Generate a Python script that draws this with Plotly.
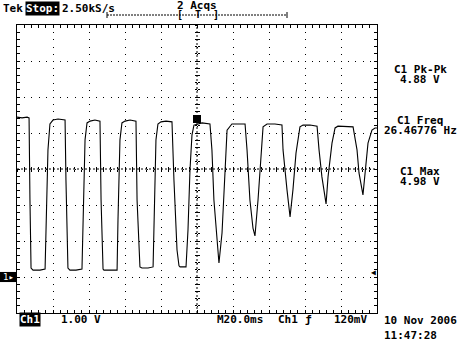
import plotly.graph_objects as go

# ---- data (time in ms relative to trigger, volts) ----
time_ms = [
    -100.0, -97.2, -94.4, -93.3, -92.8, -92.2, -91.1, -87.2, -84.4, -83.9, -82.8, -81.7, -80.0, -77.2, -73.3,
    -72.8, -71.7, -70.6, -67.2, -63.9, -63.3, -62.2, -61.1, -59.4, -56.7, -53.9,
    -53.3, -52.2, -51.7, -48.3, -44.4, -43.9, -42.8, -41.7, -40.0, -37.2, -33.9,
    -33.3, -31.7, -30.6, -27.2, -24.4, -23.9, -22.8, -21.7, -20.0, -17.2, -13.9,
    -12.8, -11.1, -10.0, -9.4, -6.1, -5.0, -3.9, -2.8, -1.7, 2.8, 7.2,
    8.3, 9.4, 11.1, 12.2, 13.9, 15.6, 16.7, 19.4, 22.8, 26.7,
    27.8, 29.4, 31.1, 32.2, 33.9, 35.6, 36.7, 38.9, 43.3, 47.2,
    47.8, 50.0, 51.7, 53.3, 55.0, 57.2, 58.9, 62.8, 66.7,
    67.8, 69.4, 71.7, 72.8, 75.0, 76.7, 78.3, 82.2, 86.7,
    88.9, 90.0, 92.2, 93.3, 95.0, 97.2, 98.9, 100.0,
]
volts = [
    4.44, 4.42, 4.44, 4.42, 2.14, 0.25, 0.19, 0.19, 0.22, 1.31, 3.53, 4.25, 4.36, 4.39, 4.36,
    2.69, 0.25, 0.19, 0.19, 0.22, 1.31, 3.81, 4.28, 4.33, 4.36, 4.33,
    2.14, 0.22, 0.19, 0.19, 0.19, 1.58, 3.81, 4.28, 4.33, 4.36, 4.33,
    2.14, 0.28, 0.25, 0.25, 0.28, 1.31, 3.81, 4.25, 4.31, 4.33, 4.31,
    2.69, 0.75, 0.31, 0.28, 0.28, 1.31, 2.97, 3.94, 4.22, 4.28, 4.25,
    3.53, 2.14, 0.94, 0.39, 1.22, 3.06, 4.08, 4.25, 4.25, 4.25,
    3.53, 2.14, 1.36, 1.14, 2.14, 3.44, 4.17, 4.25, 4.25, 4.22,
    3.53, 2.42, 1.67, 2.42, 3.44, 4.17, 4.22, 4.22, 4.19,
    3.53, 2.78, 2.03, 2.78, 3.72, 4.14, 4.19, 4.19, 4.17,
    3.53, 2.89, 2.28, 2.89, 3.72, 4.08, 4.14, 4.14,
]
assert len(time_ms) == len(volts)

x_range = [-100, 100]   # 10 div x 20 ms
y_range = [-1, 7]       # 8 div x 1 V, ground at 0 V
trigger_level = 0.12

header_left = ["Tek", "Stop:", "2.50kS/s"]
header_acq = "2 Acqs"
measurements = [("C1 Pk-Pk", "4.88 V"), ("C1 Freq", "26.46776 Hz"), ("C1 Max", "4.98 V")]
footer = {"ch": "Ch1", "vdiv": "1.00 V", "time": "M20.0ms", "trig_src": "Ch1", "edge": "ƒ",
          "trig_lvl": "120mV", "date": "10 Nov 2006", "clock": "11:47:28"}

W, H = 461, 346
L, R, T, B = 17, 84, 25, 33
PW, PH = W - L - R, H - T - B
FONT = "DejaVu Sans Mono"


def px(X):
    return (X - L) / PW


def py(Y):
    return (H - B - Y) / PH


fig = go.Figure()
fig.add_trace(go.Scatter(x=time_ms, y=volts, mode="lines",
                         line=dict(color="black", width=1.1), hoverinfo="skip", showlegend=False))
# empty traces so the overlay tick axes are drawn
fig.add_trace(go.Scatter(x=[], y=[], xaxis="x2", yaxis="y", showlegend=False))
fig.add_trace(go.Scatter(x=[], y=[], xaxis="x3", yaxis="y", showlegend=False))
fig.add_trace(go.Scatter(x=[], y=[], xaxis="x", yaxis="y2", showlegend=False))
fig.add_trace(go.Scatter(x=[], y=[], xaxis="x", yaxis="y3", showlegend=False))

common = dict(showticklabels=False, zeroline=False, fixedrange=True)

fig.update_layout(
    width=W, height=H,
    margin=dict(l=L, r=R, t=T, b=B, pad=0),
    paper_bgcolor="white", plot_bgcolor="white",
    showlegend=False,
    xaxis=dict(range=x_range, tick0=0, dtick=20, showgrid=True, gridcolor="black",
               griddash="1px,6.2px", gridwidth=1,
               showline=True, linecolor="black", linewidth=1, mirror="allticks",
               ticks="inside", ticklen=3, tickcolor="black", tickwidth=1,
               minor=dict(dtick=4, tick0=0, ticks="inside", ticklen=3, tickcolor="black", showgrid=False),
               **common),
    yaxis=dict(range=y_range, tick0=0, dtick=1, showgrid=True, gridcolor="black",
               griddash="1px,6.2px", gridwidth=1,
               showline=True, linecolor="black", linewidth=1, mirror="allticks",
               ticks="inside", ticklen=3, tickcolor="black", tickwidth=1,
               minor=dict(dtick=0.2, tick0=0, ticks="inside", ticklen=3, tickcolor="black", showgrid=False),
               **common),
    xaxis2=dict(overlaying="x", anchor="free", position=0.5, range=x_range, tick0=0, dtick=4,
                ticks="inside", ticklen=2, tickcolor="black", showgrid=False, showline=False, **common),
    xaxis3=dict(overlaying="x", anchor="free", position=0.5, range=x_range, tick0=0, dtick=4,
                ticks="outside", ticklen=2, tickcolor="black", showgrid=False, showline=False, **common),
    yaxis2=dict(overlaying="y", anchor="free", position=0.5, range=y_range, tick0=0, dtick=0.2,
                ticks="inside", ticklen=2, tickcolor="black", showgrid=False, showline=False, **common),
    yaxis3=dict(overlaying="y", anchor="free", position=0.5, range=y_range, tick0=0, dtick=0.2,
                ticks="outside", ticklen=2, tickcolor="black", showgrid=False, showline=False, **common),
)

# centre crosshair
fig.add_shape(type="line", xref="x", yref="paper", x0=0, x1=0, y0=0, y1=1,
              line=dict(color="black", width=1, dash="2px,2px"), layer="below")
fig.add_shape(type="line", xref="paper", yref="y", x0=0, x1=1, y0=3, y1=3,
              line=dict(color="black", width=1, dash="2px,2px"), layer="below")

# header trigger-position bar
fig.add_shape(type="line", xref="paper", yref="paper", x0=px(107), x1=px(287), y0=py(15), y1=py(15),
              line=dict(color="black", width=1, dash="2px,1px"))
for X in (107, 287):
    fig.add_shape(type="line", xref="paper", yref="paper", x0=px(X), x1=px(X), y0=py(12), y1=py(18),
                  line=dict(color="black", width=1))


def text(X, Y, s, anchor="left", size=11, color="black", bg=None):
    fig.add_annotation(x=px(X), y=py(Y), xref="paper", yref="paper", text=s, showarrow=False,
                       xanchor=anchor, yanchor="middle",
                       font=dict(family=FONT, size=size, color=color, weight="bold"),
                       bgcolor=bg, borderpad=0)


text(2, 8, header_left[0])
text(25, 8, header_left[1], color="white", bg="black")
text(61, 8, header_left[2])
text(197, 6, header_acq, anchor="center")
text(180, 15, "[", anchor="center", size=10)
text(198, 15, "T", anchor="center", size=10)
text(216, 15, "]", anchor="center", size=10)

for i, (name, val) in enumerate(measurements):
    y0 = 69 + i * 51
    text(420, y0, name, anchor="center")
    text(420, y0 + 10, val, anchor="center")

text(19, 319, footer["ch"], color="white", bg="black")
text(60, 319, footer["vdiv"])
text(216, 319, footer["time"])
text(277, 319, footer["trig_src"])
text(304, 319, footer["edge"])
text(333, 319, footer["trig_lvl"])
text(383, 320, footer["date"])
text(383, 335, footer["clock"])

# ground marker on the left
fig.add_shape(type="rect", xref="paper", yref="y", x0=px(0), x1=px(16), y0=-0.14, y1=0.14,
              fillcolor="black", line=dict(width=0))
fig.add_annotation(x=px(8), y=0, xref="paper", yref="y", text="1▸", showarrow=False,
                   xanchor="center", yanchor="middle", font=dict(family=FONT, size=9, color="white"))

# trigger level arrow on the right
fig.add_annotation(x=px(373), y=trigger_level, xref="paper", yref="y", text="◀", showarrow=False,
                   xanchor="center", yanchor="middle", font=dict(family=FONT, size=8, color="black"))

# trigger point marker on trace
fig.add_shape(type="rect", xref="paper", yref="paper", x0=px(193), x1=px(201), y0=py(123), y1=py(115),
              fillcolor="black", line=dict(width=0))

fig.write_html("out.html")
